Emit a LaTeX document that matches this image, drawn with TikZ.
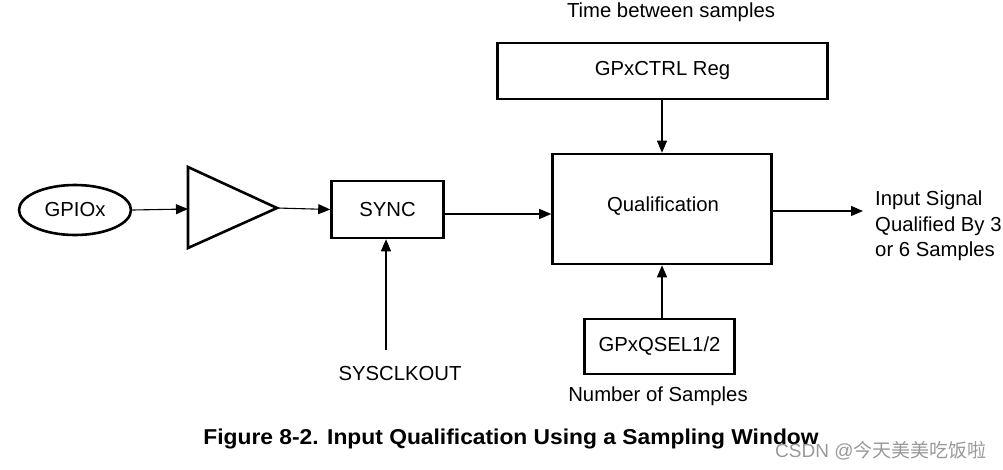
\documentclass[tikz,border=0pt]{standalone}
\usepackage{fontspec}
\setmainfont{Liberation Sans}
\newfontfamily\cjk{Noto Sans CJK SC}
\usetikzlibrary{arrows.meta,shapes.geometric}
\begin{document}
\begin{tikzpicture}[x=1pt,y=-1pt,
  box/.style={draw,line width=2.6pt,inner sep=0pt},
  lbl/.style={font=\fontsize{20.3}{24}\selectfont,inner sep=0pt},
  conn/.style={line width=1.1pt,-{Triangle[length=12pt,width=10pt]}}]
\useasboundingbox (0,0) rectangle (1003,469);
% nodes
\node[box,ellipse,minimum width=112pt,minimum height=50pt,lbl] (gpio) at (75,210) {GPIOx};
\draw[line width=2.6pt,line join=miter] (188,167) coordinate (tl) -- (277,208) coordinate (apex) -- (188,248) coordinate (bl) -- cycle;
\coordinate (tin) at (188,209);
\node[box,minimum width=112pt,minimum height=57pt,lbl] (sync) at (387.5,209.5) {SYNC};
\node[box,minimum width=219pt,minimum height=110pt] (qual) at (662,209) {};
\node[lbl] (qualt) at (663,206) {Qualification};
\node[box,minimum width=330pt,minimum height=56pt,lbl] (ctrl) at (662.5,71) {GPxCTRL Reg};
\node[box,minimum width=150pt,minimum height=55pt,lbl] (qsel) at (659.5,346.5) {GPxQSEL1/2};
\node[lbl] (time) at (671,12) {Time between samples};
\node[lbl] (nsamp) at (658,396) {Number of Samples};
\node[lbl] (sysclk) at (400,374) {SYSCLKOUT};
\node[lbl,align=left,anchor=west,font=\fontsize{20.3}{25.5}\selectfont] (out) at (875,226) {Input Signal\\Qualified By 3\\or 6 Samples};
\coordinate (outend) at (863,211);
\coordinate (sysstart) at (386,350);
% connectors
\draw[conn] (gpio.east) -- (tin);
\draw[conn] (apex) -- (sync.west);
\draw[conn] (sync.east |- 0,214) -- (qual.west |- 0,214);
\draw[conn] (qual.east |- 0,211) -- (outend);
\draw[conn] (ctrl.south -| qual.north) -- (qual.north);
\draw[conn] (qsel.north -| qual.south) -- (qual.south);
\draw[conn] (sysstart) -- (sysstart |- sync.south);
% caption
\node[inner sep=0pt,font=\bfseries\fontsize{21.5}{24}\selectfont] (cap) at (511,439) {\resizebox{615pt}{\height}{Figure 8-2. Input Qualification Using a Sampling Window}};
\node[inner sep=0pt,anchor=west,text=black!40,font=\fontsize{19}{22}\selectfont] (wm) at (775,451) {CSDN @{\cjk 今天美美吃饭啦}};
\end{tikzpicture}
\end{document}
